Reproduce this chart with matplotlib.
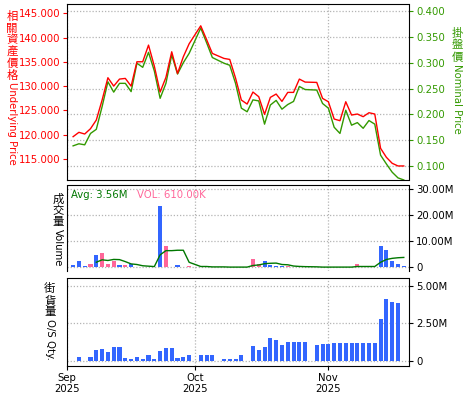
import numpy as np
import pandas as pd
import matplotlib
matplotlib.use('Agg')
import matplotlib.pyplot as plt

plt.rcParams['font.family'] = ['DejaVu Sans', 'Noto Sans CJK TC']
CJK = ['Noto Sans CJK TC', 'DejaVu Sans']
FS = 7.3

# trading days (weekday slots, HK holidays left as gaps)
slots = pd.bdate_range('2025-09-01', '2025-11-20')
holidays = pd.to_datetime(['2025-10-01', '2025-10-07', '2025-10-29'])
days = slots.drop(holidays)[1:]

# 相關資產價格 / underlying price
underlying = [119.55, 120.45, 120.10, 121.20, 122.99, 127.12, 131.73, 130.00, 131.45, 131.59,
              130.00, 135.03, 135.03, 138.47, 134.13, 128.77, 131.80, 137.09, 132.62, 136.06,
              138.74, 142.46, 139.64, 136.75, 135.72, 135.51, 131.66, 127.12, 126.29, 128.77,
              127.81, 124.16, 127.67, 128.36, 126.84, 128.70, 128.70, 131.45, 130.83, 130.76,
              127.46, 126.77, 123.20, 122.85, 126.77, 124.02, 124.23, 123.68, 124.50, 124.23,
              117.15, 115.29, 114.05, 113.50, 113.50]

# 掛盤價 / nominal price
nominal = [0.139, 0.143, 0.141, 0.163, 0.171, 0.215, 0.263, 0.243, 0.260, 0.260,
           0.244, 0.299, 0.291, 0.320, 0.284, 0.231, 0.260, 0.315, 0.278, 0.300,
           0.318, 0.367, 0.339, 0.310, 0.299, 0.295, 0.260, 0.212, 0.205, 0.228,
           0.226, 0.181, 0.218, 0.227, 0.210, 0.219, 0.225, 0.254, 0.248, 0.247,
           0.221, 0.212, 0.175, 0.163, 0.208, 0.179, 0.184, 0.173, 0.188, 0.181,
           0.121, 0.104, 0.088, 0.077, 0.073]

# 成交量 / volume (millions), b = blue bar, p = pink bar
volume = [0.77, 2.44, 0.38, 1.15, 4.60, 5.40, 1.15, 2.44, 0.77, 0.77,
          1.00, 0, 0, 0, 0, 23.5, 8.10, 0, 0.77, 0,
          0.38, 0, 0, 0, 0, 0, 0, 0, 0, 3.10,
          1.00, 2.44, 0.77, 0.38, 0.38, 0.50, 0, 0, 0, 0,
          0, 0, 0, 0, 0, 0, 1.15, 0, 0, 0,
          8.10, 6.50, 2.20, 1.15, 0.61]
vol_side = list('bbbpbpppbpb' 'bbbbbpbbbp' 'bbbbbbbbp' 'pbbbbp' 'bbbbbbbbbb' 'pbbb' 'bbbbb')

# 街貨量 / outstanding quantity (millions)
os_qty = [0, 0.22, 0, 0.22, 0.69, 0.76, 0.56, 0.89, 0.89, 0.16,
          0.09, 0.22, 0.09, 0.36, 0.09, 0.63, 0.83, 0.83, 0.16, 0.22,
          0.36, 0.36, 0.36, 0.36, 0.09, 0.09, 0.09, 0.36, 0, 0.96,
          0.69, 0.89, 1.50, 1.36, 1.03, 1.23, 1.23, 1.23, 1.23, 1.03,
          1.09, 1.09, 1.16, 1.16, 1.16, 1.16, 1.16, 1.16, 1.16, 1.16,
          2.77, 4.13, 3.93, 3.84, 0]

x = slots.get_indexer(days)
month_pos = [int(np.argmax(slots.month == m)) for m in (9, 10, 11)]
month_lab = [slots[p].strftime('%b\n%Y') for p in month_pos]

W, H = 475, 400
fig = plt.figure(figsize=(W / 100, H / 100), dpi=100)


def px_axes(x0, y0, x1, y1):
    return fig.add_axes([x0 / W, 1 - y1 / H, (x1 - x0) / W, (y1 - y0) / H])


def vlabel(xp, yp, cjk, latin, color, step=11.7):
    # CJK characters stay upright, latin part runs downwards
    for ch in cjk:
        fig.text(xp / W, 1 - (yp + step / 2) / H, ch, ha='center', va='center',
                 fontsize=8.2, color=color, family=CJK)
        yp += step
    fig.text(xp / W, 1 - (yp + 1) / H, latin, rotation=-90, ha='center', va='top',
             fontsize=FS, color=color)


GRID = dict(color='#b4b4b4', linestyle=(0, (1, 1.5)), linewidth=0.9)
DOT = (0, (1, 1))
GREEN = '#339900'
XLIM = (0, 58.9)

# ---- price panel
ax = px_axes(67.3, 4.3, 409, 180)
ax.plot(x, nominal, color=GREEN, lw=1.0)
ax.set_xlim(XLIM)
ax.set_ylim(0.0729, 0.413)
ax.set_xticks(month_pos)
ax.tick_params(axis='x', length=0, labelbottom=False)
ax.grid(**GRID)
for s in ax.spines.values():
    s.set_visible(False)

ax2 = ax.twinx()
ax2.plot(x, underlying, color='red', lw=1.0)
ax2.set_ylim(110.6, 146.9)
ax2.set_yticks(range(115, 146, 5))
ax2.set_yticklabels(['%.3f' % v for v in range(115, 146, 5)])
ax2.yaxis.tick_left()
ax2.tick_params(axis='y', colors='red', labelsize=FS, length=3, pad=2)
for s in ax2.spines.values():
    s.set_linestyle(DOT)
    s.set_color('black')

# green scale on the right (set after twinx, which moves it left)
ax.yaxis.tick_right()
ax.set_yticks(np.arange(0.1, 0.401, 0.05))
ax.set_yticklabels(['%.3f' % v for v in np.arange(0.1, 0.401, 0.05)])
ax.tick_params(axis='y', colors=GREEN, labelsize=FS, length=3, pad=2)

vlabel(12, 11, '相關資產價格', 'Underlying Price', 'red')
vlabel(457, 28, '掛盤價', 'Nominal Price', GREEN)

# ---- volume panel
axv = px_axes(67.3, 184.7, 409, 271)
colors = ['#3366ff' if c == 'b' else '#ff6699' for c in vol_side]
axv.bar(x, volume, width=0.7, color=colors)
avg5 = pd.Series(volume).rolling(5).mean()
axv.plot(x, avg5, color='#007700', lw=1.0)
axv.set_xlim(XLIM)
axv.set_ylim(-1.5, 31.65)
axv.set_yticks([0, 10, 20, 30])
axv.set_yticklabels(['0', '10.00M', '20.00M', '30.00M'])
axv.yaxis.tick_right()
axv.tick_params(axis='y', labelsize=FS, length=3, pad=2)
axv.set_xticks(month_pos)
axv.tick_params(axis='x', length=0, labelbottom=False)
axv.grid(**GRID)
axv.set_axisbelow(True)
axv.spines['bottom'].set_visible(False)
axv.spines['top'].set_linestyle(DOT)
axv.spines['left'].set_linestyle(DOT)
fig.text(71 / W, 1 - 195 / H, 'Avg: 3.56M', color='#007700', fontsize=FS, va='center')
fig.text(137 / W, 1 - 195 / H, 'VOL: 610.00K', color='#ff6699', fontsize=FS, va='center')
vlabel(58, 193, '成交量', 'Volume', 'black')

# ---- outstanding quantity panel
axo = px_axes(67.3, 277.7, 409, 365.7)
axo.bar(x, os_qty, width=0.7, color='#3366ff')
axo.set_xlim(XLIM)
axo.set_ylim(-0.33, 5.53)
axo.set_yticks([0, 2.5, 5])
axo.set_yticklabels(['0', '2.50M', '5.00M'])
axo.yaxis.tick_right()
axo.tick_params(axis='y', labelsize=FS, length=3, pad=2)
axo.set_xticks(month_pos)
axo.set_xticklabels(month_lab)
axo.tick_params(axis='x', labelsize=FS, length=3, pad=2)
axo.grid(**GRID)
axo.set_axisbelow(True)
axo.spines['top'].set_linestyle(DOT)
axo.spines['left'].set_linestyle(DOT)
vlabel(50, 283, '街貨量', 'O/S Qty.', 'black')

fig.savefig('out.png', dpi=100)
